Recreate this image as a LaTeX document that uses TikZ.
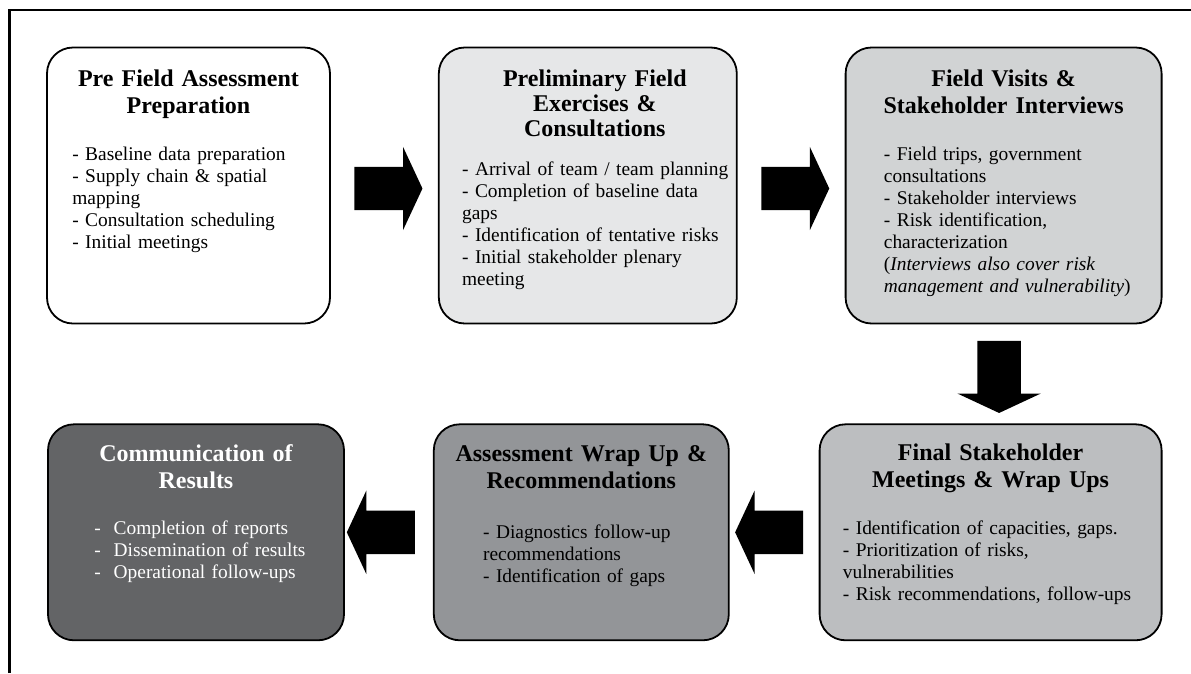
\documentclass[tikz,border=0pt]{standalone}
\usepackage{fontspec}
\setmainfont{Liberation Serif}
\usepackage{tikz}
\usetikzlibrary{positioning,calc,shapes.arrows}
\definecolor{gsa}{HTML}{E6E7E8}
\definecolor{gsb}{HTML}{D1D3D4}
\definecolor{gsc}{HTML}{BCBEC0}
\definecolor{gsd}{HTML}{939598}
\definecolor{gse}{HTML}{636466}

\begin{document}
\begin{tikzpicture}[x=1pt,y=-1pt,
  node distance=107pt,
  stage/.style={draw=black,line width=1.8pt,rounded corners=26pt,inner sep=0pt,minimum height=276pt},
  ttl/.style={anchor=base,inner sep=0pt,text width=270pt,align=center,
    font=\fontsize{24}{27}\selectfont\bfseries},
  lst/.style={anchor=base west,inner sep=0pt,text width=300pt,align=left,
    font=\fontsize{19.4}{22}\selectfont},
  blk/.style={single arrow,fill=black,inner xsep=0pt,inner ysep=21.5pt,
    single arrow head extend=20pt,single arrow tip angle=130,minimum height=68pt}]
\useasboundingbox (0,0) rectangle (1191,673);
\draw[line width=2.4pt] (9.5,673) -- (9.5,10) -- (1191,10);
\node[stage,fill=white,minimum width=283pt] (pre) at (188.5,185.5) {};
\node[stage,fill=gsa,minimum width=298pt,right=of pre] (prelim) {};
\node[stage,fill=gsb,minimum width=316pt,right=of prelim] (visits) {};
\node[stage,fill=gsc,minimum width=342pt,minimum height=216pt,
  below=99pt of visits.south east,anchor=north east] (final) {};
\node[stage,fill=gsd,minimum width=295pt,minimum height=216pt,left=89pt of final] (wrap) {};
\node[stage,fill=gse,minimum width=296pt,minimum height=216pt,left=88pt of wrap] (comm) {};
\node[ttl] (preT) at ($(pre.north)+(0,40)$) {Pre Field Assessment\\Preparation};
\node[lst] (preL) at ($(pre.north west)+(26,114)$) {- Baseline data preparation\\- Supply chain \& spatial\\mapping\\- Consultation scheduling\\- Initial meetings};
\node[ttl,xshift=7pt,font=\fontsize{24}{25}\selectfont\bfseries] (prelimT) at ($(prelim.north)+(0,40)$) {Preliminary Field\\Exercises \&\\Consultations};
\node[lst] (prelimL) at ($(prelim.north west)+(24,129)$) {- Arrival of team / team planning\\- Completion of baseline data\\gaps\\- Identification of tentative risks\\- Initial stakeholder plenary\\meeting};
\node[ttl] (visitsT) at ($(visits.north)+(0,40)$) {Field Visits \&\\Stakeholder Interviews};
\node[lst] (visitsL) at ($(visits.north west)+(39,114)$) {- Field trips, government\\consultations\\- Stakeholder interviews\\- Risk identification,\\characterization\\(\textit{Interviews also cover risk}\\\textit{management and vulnerability})};
\node[ttl] (finalT) at ($(final.north)+(0,37)$) {Final Stakeholder\\Meetings \& Wrap Ups};
\node[lst] (finalL) at ($(final.north west)+(24,111)$) {- Identification of capacities, gaps.\\- Prioritization of risks,\\vulnerabilities\\- Risk recommendations, follow-ups};
\node[ttl] (wrapT) at ($(wrap.north)+(0,38)$) {Assessment Wrap Up \&\\Recommendations};
\node[lst] (wrapL) at ($(wrap.north west)+(50,115)$) {- Diagnostics follow-up\\recommendations\\- Identification of gaps};
\node[ttl,text=white] (commT) at ($(comm.north)+(0,38)$) {Communication of\\Results};
\node[lst,text=white] (commL) at ($(comm.north west)+(47,111)$) {-\ \ Completion of reports\\-\ \ Dissemination of results\\-\ \ Operational follow-ups};
\node[blk] (ar1) at ($(pre.east)!0.5!(prelim.west)+(-1,3)$) {};
\node[blk] (ar2) at ($(prelim.east)!0.5!(visits.west)+(-1,3)$) {};
\node[blk,rotate=-90,minimum height=72pt] (ar3) at ($(visits.south)!0.5!(final.north)+(2,-2)$) {};
\node[blk,rotate=180] (ar4) at ($(final.west)!0.5!(wrap.east)$) {};
\node[blk,rotate=180] (ar5) at ($(wrap.west)!0.5!(comm.east)+(-3,0)$) {};
\end{tikzpicture}
\end{document}
